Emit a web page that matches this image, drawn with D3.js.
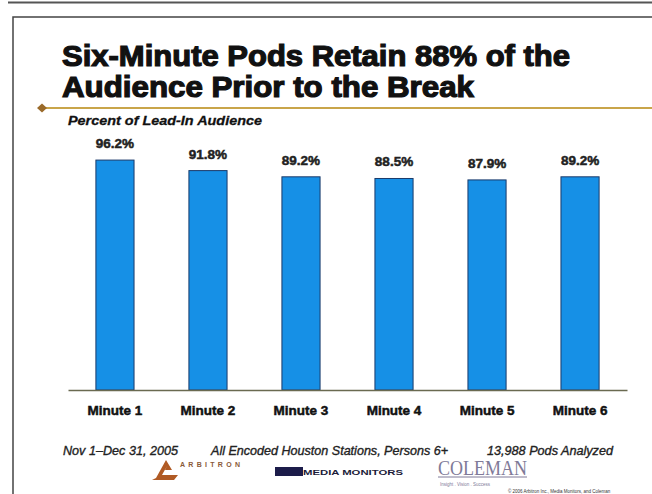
<!DOCTYPE html>
<html>
<head>
<meta charset="utf-8">
<script src="https://cdn.jsdelivr.net/npm/d3@7"></script>
<style>
  body { margin: 0; background: #fff; }
  svg { display: block; font-family: "Liberation Sans", Arial, sans-serif; }
</style>
</head>
<body>
<div id="chart"></div>
<script>
// data
const categories = ["Minute 1", "Minute 2", "Minute 3", "Minute 4", "Minute 5", "Minute 6"];
const values = [96.2, 91.8, 89.2, 88.5, 87.9, 89.2];
const valueLabels = ["96.2%", "91.8%", "89.2%", "88.5%", "87.9%", "89.2%"];
const titleLines = ["Six-Minute Pods Retain 88% of the", "Audience Prior to the Break"];
const subtitle = "Percent of Lead-In Audience";
const footnotes = ["Nov 1\u2013Dec 31, 2005", "All Encoded Houston Stations, Persons 6+", "13,988 Pods Analyzed"];

const width = 652, height = 494;

const svg = d3.select("#chart").append("svg")
    .attr("width", width)
    .attr("height", height);

// slide frame
svg.append("line")
    .attr("x1", 8).attr("x2", width).attr("y1", 2.5).attr("y2", 2.5)
    .attr("stroke", "#555").attr("stroke-width", 2);
svg.append("path")
    .attr("d", `M13,${height} V17 H${width}`)
    .attr("fill", "none").attr("stroke", "#444").attr("stroke-width", 1.5);

// title (heavy, like Helvetica Black)
svg.append("g").selectAll("text")
    .data(titleLines)
    .join("text")
    .attr("x", 62)
    .attr("y", (d, i) => 66 + i * 31)
    .attr("font-size", 29)
    .attr("font-weight", "bold")
    .attr("fill", "#111")
    .attr("stroke", "#111")
    .attr("stroke-width", 1.2)
    .attr("textLength", (d, i) => i === 0 ? 508 : 412)
    .attr("lengthAdjust", "spacingAndGlyphs")
    .text(d => d);

// gold rule with diamond
svg.append("line")
    .attr("x1", 42).attr("x2", width).attr("y1", 108).attr("y2", 108)
    .attr("stroke", "#c9a54a").attr("stroke-width", 2);
svg.append("path")
    .attr("d", "M37,108 L42,103.5 L47,108 L42,112.5 Z")
    .attr("fill", "#9a6a2a");

svg.append("text")
    .attr("x", 68).attr("y", 125)
    .attr("font-size", 13.5)
    .attr("font-weight", "bold")
    .attr("font-style", "italic")
    .attr("fill", "#111")
    .attr("stroke", "#111").attr("stroke-width", 0.3)
    .attr("textLength", 194)
    .attr("lengthAdjust", "spacingAndGlyphs")
    .text(subtitle);

// scales
const x = d3.scaleBand()
    .domain(categories)
    .range([68, 627])
    .paddingInner(0.59)
    .paddingOuter(0.3);

const y = d3.scaleLinear()
    .domain([0, 100])
    .range([390, 151]);

// bars
svg.append("g").selectAll("rect")
    .data(values)
    .join("rect")
    .attr("x", (d, i) => x(categories[i]))
    .attr("y", d => y(d))
    .attr("width", x.bandwidth())
    .attr("height", d => y(0) - y(d))
    .attr("fill", "#1690e6")
    .attr("stroke", "#1a3a6a")
    .attr("stroke-width", 1);

// value labels
svg.append("g").selectAll("text")
    .data(values)
    .join("text")
    .attr("x", (d, i) => x(categories[i]) + x.bandwidth() / 2)
    .attr("y", d => y(d) - 12)
    .attr("text-anchor", "middle")
    .attr("font-size", 13.5)
    .attr("font-weight", "bold")
    .attr("fill", "#222")
    .attr("stroke", "#222").attr("stroke-width", 0.5)
    .text((d, i) => valueLabels[i]);

// baseline and category axis
const xAxis = svg.append("g")
    .attr("transform", `translate(0,${y(0)})`)
    .call(d3.axisBottom(x).tickSize(0).tickPadding(15));
xAxis.select(".domain")
    .attr("stroke", "#6a6a50").attr("stroke-width", 1.5);
xAxis.selectAll("text")
    .attr("font-family", "Liberation Sans, Arial, sans-serif")
    .attr("font-size", 13.5)
    .attr("font-weight", "bold")
    .attr("fill", "#111")
    .attr("stroke", "#111").attr("stroke-width", 0.5);

// footnotes
svg.append("g").selectAll("text")
    .data(footnotes)
    .join("text")
    .attr("x", (d, i) => [63, 211, 487][i])
    .attr("y", 455)
    .attr("font-size", 12.6)
    .attr("font-style", "italic")
    .attr("fill", "#222")
    .attr("stroke", "#222").attr("stroke-width", 0.35)
    .attr("textLength", (d, i) => [115, 237, 126][i])
    .attr("lengthAdjust", "spacingAndGlyphs")
    .text(d => d);

// sponsor logos
const logos = svg.append("g");
logos.append("path")
    .attr("d", "M156,478 L166,460 L172,470 L165,470 L167,466 L162,475 L178,475 L174,480 L152,480 Z")
    .attr("fill", "#b05a24");
logos.append("text")
    .attr("x", 180).attr("y", 467)
    .attr("font-size", 7).attr("font-weight", "bold")
    .attr("fill", "#8a5a3a")
    .attr("textLength", 60)
    .text("ARBITRON");

logos.append("rect")
    .attr("x", 275).attr("y", 467).attr("width", 28).attr("height", 9)
    .attr("fill", "#1c1c4a");
logos.append("text")
    .attr("x", 303).attr("y", 475)
    .attr("font-size", 7.5).attr("font-weight", "bold")
    .attr("fill", "#1c1c3a")
    .attr("textLength", 100)
    .attr("lengthAdjust", "spacingAndGlyphs")
    .text("MEDIA MONITORS");

logos.append("text")
    .attr("x", 438).attr("y", 475)
    .attr("font-family", "Liberation Serif, serif")
    .attr("font-size", 20)
    .attr("fill", "#807a98")
    .attr("textLength", 89)
    .attr("lengthAdjust", "spacingAndGlyphs")
    .text("COLEMAN");
logos.append("line")
    .attr("x1", 438).attr("x2", 527).attr("y1", 477).attr("y2", 477)
    .attr("stroke", "#807a98").attr("stroke-width", 1);
logos.append("text")
    .attr("x", 440).attr("y", 486)
    .attr("font-size", 4.5)
    .attr("fill", "#807a98")
    .text("Insight  .  Vision  .  Success");

svg.append("text")
    .attr("x", 508).attr("y", 492.5)
    .attr("font-size", 4.5)
    .attr("fill", "#333")
    .text("\u00a9 2006 Arbitron Inc., Media Monitors, and Coleman");
</script>
</body>
</html>
